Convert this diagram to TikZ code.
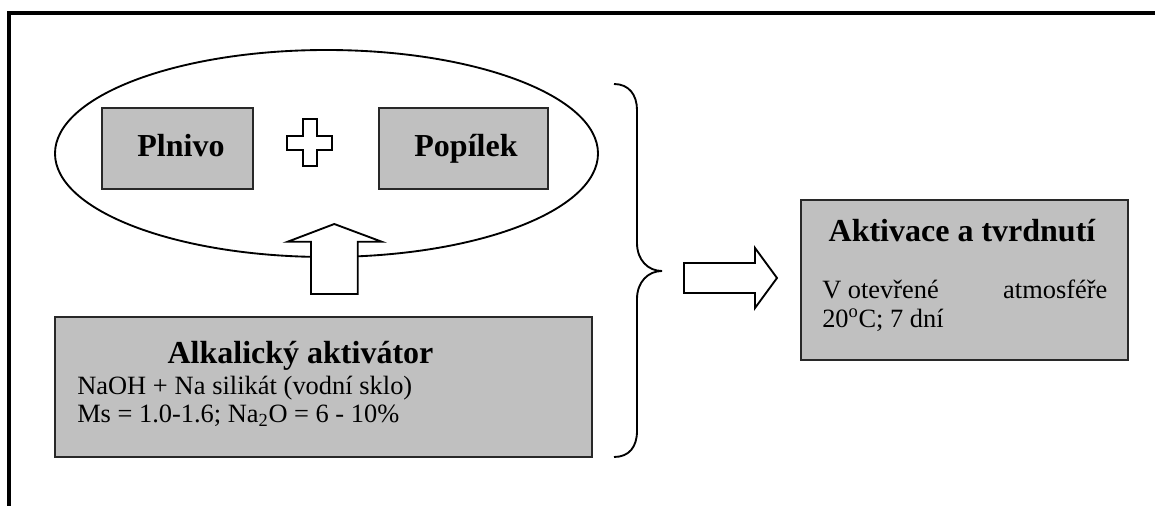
\documentclass[tikz,border=0pt]{standalone}
\usepackage{fontspec}
\setmainfont{Liberation Serif}
\definecolor{boxgray}{RGB}{192,192,192}
\definecolor{edgegray}{RGB}{40,40,40}
\tikzset{
  frameline/.style={line width=2.5pt, draw=black},
  outline/.style={line width=1.4pt, draw=black},
  graybox/.style={draw=edgegray, line width=1.3pt, fill=boxgray, inner sep=0pt},
  titletext/.style={inner sep=0pt, font=\fontsize{24}{28}\selectfont\bfseries},
  bodytext/.style={inner sep=0pt, font=\fontsize{19.8}{23}\selectfont},
  blockarrow/.style={line width=1.4pt, draw=black, fill=white, line join=miter},
}
\begin{document}
\begin{tikzpicture}[x=0.75pt,y=-0.75pt]
\useasboundingbox (0,0) rectangle (1155,506);
% frame
\draw[frameline] (9,510) -- (9,13) -- (1160,13);
% ellipse
\draw[outline] (326.5,153.5) ellipse [x radius=271.5, y radius=103.5];
% inner boxes
\node[graybox, minimum width=113.25pt, minimum height=60.75pt] (plnivo) at (177.5,148.5) {};
\node[titletext, anchor=base] (plnivotext) at (181,156.7) {Plnivo};
\node[graybox, minimum width=126.75pt, minimum height=60.75pt] (popilek) at (463.5,148.5) {};
\node[titletext, anchor=base] (popilektext) at (466,156.7) {Popílek};
% plus sign
\draw[blockarrow] (303,119) -- (317,119) -- (317,136) -- (332,136) -- (332,150) -- (317,150)
  -- (317,166) -- (303,166) -- (303,150) -- (287,150) -- (287,136) -- (303,136) -- cycle;
% up arrow
\draw[blockarrow] (311,294) -- (357.7,294) -- (357.7,241.7) -- (381.7,241.7) -- (334.3,224)
  -- (287.7,241.7) -- (311,241.7) -- cycle;
% activator box
\node[graybox, minimum width=402.75pt, minimum height=105pt] (alk) at (323.5,387) {};
\node[titletext, anchor=base] (alktitle) at (300.5,363) {Alkalický aktivátor};
\node[bodytext, anchor=base west] (alk1) at (77,394) {\hbox to 251.25pt{NaOH + Na silikát (vodní sklo)}};
\node[bodytext, anchor=base west] (alk2) at (77,422) {Ms = 1.0-1.6; Na\textsubscript{2}O = 6 - 10\%};
% brace
\draw[outline] (614,84) .. controls (629,84) and (637,95) .. (637,110) -- (637,243)
  .. controls (637,260) and (648,271) .. (662,271)
  .. controls (648,271) and (637,282) .. (637,299) -- (637,431)
  .. controls (637,447) and (629,457) .. (614,457);
% right arrow
\draw[blockarrow] (684,263) -- (755,263) -- (755,248) -- (777,278) -- (755,308) -- (755,293)
  -- (684,293) -- cycle;
% result box
\node[graybox, minimum width=245.25pt, minimum height=120pt] (akt) at (964.5,280) {};
\node[titletext, anchor=base] (akttitle) at (962,241.5) {Aktivace a tvrdnutí};
\node[bodytext, anchor=base west] (akt1) at (822,298) {\hbox to 213.75pt{V otevřené\hfill atmosféře}};
\node[bodytext, anchor=base west] (akt2) at (822,327.5) {20\textsuperscript{o}C; 7 dní};
\end{tikzpicture}
\end{document}
